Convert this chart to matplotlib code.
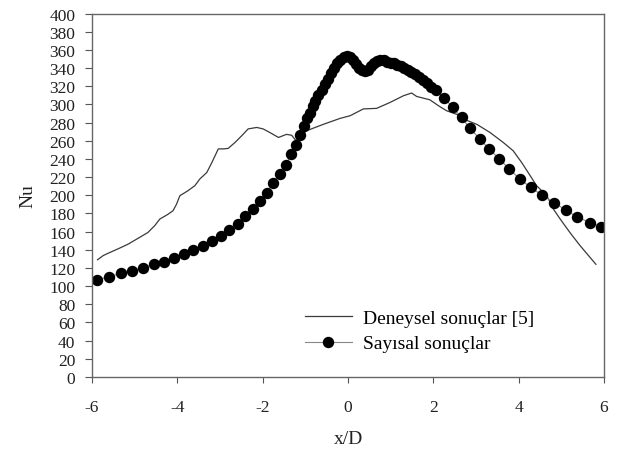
import numpy as np
import matplotlib
matplotlib.use('Agg')
import matplotlib.pyplot as plt

plt.rcParams['font.family'] = ['Liberation Serif', 'DejaVu Serif']
plt.rcParams['axes.unicode_minus'] = False

# Deneysel sonuclar [5]
x_exp = [-5.87, -5.74, -5.63, -5.39, -5.16, -4.92, -4.69, -4.53, -4.41, -4.22,
         -4.10, -4.02, -3.94, -3.75, -3.59, -3.47, -3.31, -3.19, -3.04, -2.92,
         -2.81, -2.65, -2.49, -2.34, -2.14, -1.99, -1.83, -1.63, -1.44, -1.32,
         -1.22, -1.10, -0.97, -0.58, -0.19, 0.05, 0.36, 0.67, 0.98, 1.30,
         1.49, 1.61, 1.92, 2.12, 2.31, 2.55, 2.70, 3.02, 3.33, 3.64,
         3.87, 4.07, 4.27, 4.42, 4.66, 4.81, 4.97, 5.20, 5.44, 5.67, 5.81]
nu_exp = [129, 133.5, 136, 141, 146, 152.6, 159, 166.5, 173.8, 179,
          183, 190, 199.5, 205, 210.5, 218, 225, 236, 251, 251,
          251.5, 258, 265.5, 273, 274.6, 273, 269, 263.6, 267, 266,
          260, 266, 271, 278, 284.5, 287.5, 295, 295.6, 302, 309.5,
          312.5, 308.7, 305, 298.5, 293, 289, 284, 278, 269, 258,
          249, 236, 221.5, 210.5, 199.5, 185, 174, 159, 144.5, 131.7, 124]

# Sayisal sonuclar
x_num = [-5.89, -5.60, -5.33, -5.06, -4.80, -4.55, -4.31, -4.08, -3.85, -3.63,
         -3.40, -3.19, -2.98, -2.78, -2.58, -2.42, -2.23, -2.06, -1.91, -1.75,
         -1.59, -1.45, -1.34, -1.22, -1.12, -1.02, -0.95, -0.89, -0.83, -0.77,
         -0.70, -0.62, -0.54, -0.47, -0.40, -0.33, -0.26, -0.18, -0.10, -0.02,
         0.05, 0.12, 0.19, 0.26, 0.33, 0.40, 0.47, 0.54, 0.60, 0.68,
         0.76, 0.84, 0.92, 1.00, 1.08, 1.16, 1.24, 1.32, 1.40, 1.48,
         1.57, 1.66, 1.75, 1.84, 1.95, 2.06, 2.26, 2.45, 2.66, 2.86,
         3.09, 3.31, 3.55, 3.78, 4.03, 4.28, 4.55, 4.83, 5.10, 5.37,
         5.66, 5.93]
nu_num = [106.7, 110.3, 114, 117, 120, 124, 127, 131, 135.7, 139.7,
          144.5, 149.6, 155.5, 161.7, 168, 177, 185, 194, 203, 213,
          223, 233.6, 245, 255.6, 266, 276, 284.5, 291, 298, 304,
          310, 316, 322, 328, 334, 340, 345, 349, 352, 353,
          352, 349, 344, 340, 337.5, 337, 338, 342, 346, 348,
          349, 348.5, 347, 346, 345, 343.5, 342, 340, 338, 336,
          333.5, 330.5, 327, 323.5, 319.5, 316, 307, 296.6, 285.6, 273.6,
          261.8, 250.8, 239.8, 228.8, 217.8, 208.6, 200, 192, 183.7, 176.3,
          170, 165.4]

fig = plt.figure(figsize=(6.19, 4.56), dpi=100)
ax = fig.add_axes([0.1486, 0.1711, 0.8272, 0.7971])

ax.plot(x_exp, nu_exp, color='#3a3a3a', lw=0.9, label='Deneysel sonuçlar [5]')
ax.plot(x_num, nu_num, color='#888888', lw=0.8, marker='o', ms=7.2,
        mfc='black', mec='black', label='Sayısal sonuçlar')

ax.set_xlim(-6, 6)
ax.set_ylim(0, 400)
ax.set_xticks(np.arange(-6, 7, 2))
ax.set_yticks(np.arange(0, 401, 20))
ax.tick_params(axis='x', direction='out', length=4, pad=12, labelsize=12.5,
               color='#555555', labelcolor='#222222')
ax.tick_params(axis='y', direction='out', length=5, pad=7, labelsize=12.5,
               color='#555555', labelcolor='#222222')
for s in ax.spines.values():
    s.set_color('#666666')
    s.set_linewidth(1.0)

ax.set_xlabel('x/D', fontsize=14, labelpad=11, color='#222222')
ax.set_ylabel('Nu', fontsize=14, labelpad=9, color='#222222')

ax.legend(loc='upper left', bbox_to_anchor=(0.416, 0.186), frameon=False,
          fontsize=14, handlelength=2.4, handletextpad=0.57,
          labelspacing=0.4, borderaxespad=0, borderpad=0)

fig.savefig('out.png', dpi=100)
